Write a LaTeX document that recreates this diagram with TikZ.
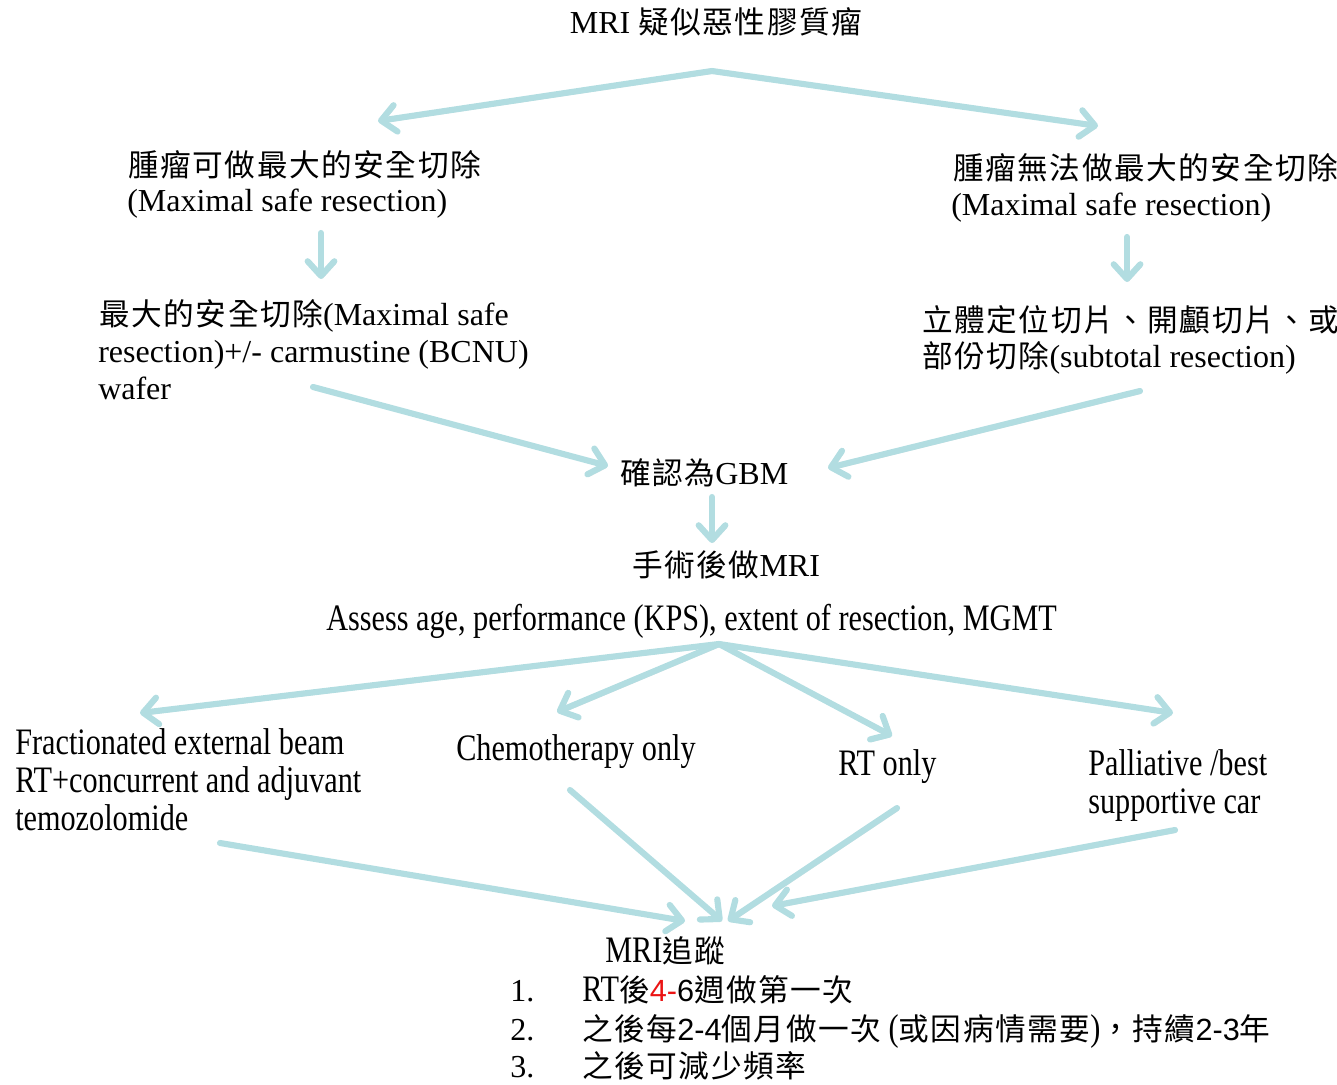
\documentclass[tikz,border=0pt]{standalone}
\usepackage{fontspec}
\setmainfont{Liberation Serif}
\newfontfamily\cjk[LetterSpace=5]{Noto Sans CJK TC}
\newfontfamily\cond[FakeStretch=0.81]{Liberation Serif}
\newfontfamily\numsans{Liberation Sans}
\usetikzlibrary{arrows.meta}
\definecolor{flowc}{RGB}{178,221,225}
\definecolor{hilite}{RGB}{235,20,20}
% mixed-script helpers
\newcommand\zhtxt[1]{{\cjk\fontsize{23pt}{28pt}\selectfont #1}}
\newcommand\digits[1]{{\numsans\fontsize{23pt}{28pt}\selectfont #1}}
\newcommand\cn{\cond\fontsize{28pt}{34pt}\selectfont}
\begin{document}
\begin{tikzpicture}[x=0.75pt,y=-0.75pt,
  flow/.style={draw=flowc, line width=4.6pt, line cap=round,
    -{Straight Barb[round,length=11pt,width=20pt]},
    preaction={draw=black, opacity=0.10, transform canvas={shift={(1.2pt,-1.8pt)}}}},
  txt/.style={anchor=base west, inner sep=0pt, font=\fontsize{24pt}{28pt}\selectfont},
  ctxt/.style={anchor=base west, inner sep=0pt, font=\cn}]
\useasboundingbox (0,0) rectangle (1337,1084);

% ---- texts, upper part ----
\node[txt, anchor=base] (title) at (716,34) {MRI \zhtxt{疑似惡性膠質瘤}};
\node[txt] (ableA) at (128,177) {\zhtxt{腫瘤可做最大的安全切除}};
\node[txt] (ableB) at (127,212) {(Maximal safe resection)};
\node[txt] (notA) at (953,180) {\zhtxt{腫瘤無法做最大的安全切除}};
\node[txt] (notB) at (951,215) {(Maximal safe resection)};
\node[txt] (resA) at (99,325) {\zhtxt{最大的安全切除}(Maximal safe};
\node[txt] (resB) at (98,362) {resection)+/- carmustine (BCNU)};
\node[txt] (resC) at (98,399) {wafer};
\node[txt] (bioA) at (922,331) {\zhtxt{立體定位切片、開顱切片、或}};
\node[txt] (bioB) at (922,367) {\zhtxt{部份切除}(subtotal resection)};
\node[txt] (gbm) at (620,484) {\zhtxt{確認為}GBM};
\node[txt] (postmri) at (632,576) {\zhtxt{手術後做}MRI};

% ---- texts, lower part ----
\node[ctxt] (assess) at (326,630) {Assess age, performance (KPS), extent of resection, MGMT};
\node[ctxt] (fracA) at (15,754) {Fractionated external beam};
\node[ctxt] (fracB) at (15,792) {RT+concurrent and adjuvant};
\node[ctxt] (fracC) at (15,830) {temozolomide};
\node[ctxt] (chemo) at (456,760) {Chemotherapy only};
\node[ctxt] (rtonly) at (838,775) {RT only};
\node[ctxt] (palA) at (1088,775) {Palliative /best};
\node[ctxt] (palB) at (1088,813) {supportive car};

\node[ctxt] (follow) at (605,962) {MRI\zhtxt{追蹤}};
\node[txt] (numA) at (510,1001) {1.};
\node[txt] (numB) at (510,1040) {2.};
\node[txt] (numC) at (510,1077) {3.};
\node[ctxt] (itemA) at (582,1001) {RT\zhtxt{後}\digits{\textcolor{hilite}{4-}6}\zhtxt{週做第一次}};
\node[ctxt] (itemB) at (582,1040) {\zhtxt{之後每}\digits{2-4}\zhtxt{個月做一次}\ (\zhtxt{或因病情需要})\zhtxt{，持續}\digits{2-3}\zhtxt{年}};
\node[ctxt] (itemC) at (582,1077) {\zhtxt{之後可減少頻率}};

% ---- connector end points ----
\coordinate (splitTop) at (712,71);
\coordinate (toAble) at (378,121);
\coordinate (toNot) at (1098,126);
\coordinate (ableOut) at (321,233);
\coordinate (ableIn) at (321,279);
\coordinate (notOut) at (1127,237);
\coordinate (notIn) at (1127,282);
\coordinate (resOut) at (313,387);
\coordinate (gbmInL) at (608,466);
\coordinate (bioOut) at (1140,391);
\coordinate (gbmInR) at (828,468);
\coordinate (gbmOut) at (712,497);
\coordinate (postIn) at (712,543);
\coordinate (splitLow) at (719,644);
\coordinate (toFrac) at (140,713);
\coordinate (toChemo) at (557,712);
\coordinate (toRT) at (892,736);
\coordinate (toPal) at (1173,713);
\coordinate (fracOut) at (220,843);
\coordinate (chemoOut) at (570,790);
\coordinate (rtOut) at (897,808);
\coordinate (palOut) at (1175,830);
\coordinate (fuA) at (685,921);
\coordinate (fuB) at (722,921);
\coordinate (fuC) at (728,921);
\coordinate (fuD) at (772,906);

% ---- connectors ----
\draw[flow] (splitTop) -- (toAble);
\draw[flow] (splitTop) -- (toNot);
\draw[flow] (ableOut) -- (ableIn);
\draw[flow] (notOut) -- (notIn);
\draw[flow] (resOut) -- (gbmInL);
\draw[flow] (bioOut) -- (gbmInR);
\draw[flow] (gbmOut) -- (postIn);
\draw[flow] (splitLow) -- (toFrac);
\draw[flow] (splitLow) -- (toChemo);
\draw[flow] (splitLow) -- (toRT);
\draw[flow] (splitLow) -- (toPal);
\draw[flow] (fracOut) -- (fuA);
\draw[flow] (chemoOut) -- (fuB);
\draw[flow] (rtOut) -- (fuC);
\draw[flow] (palOut) -- (fuD);
\end{tikzpicture}
\end{document}
